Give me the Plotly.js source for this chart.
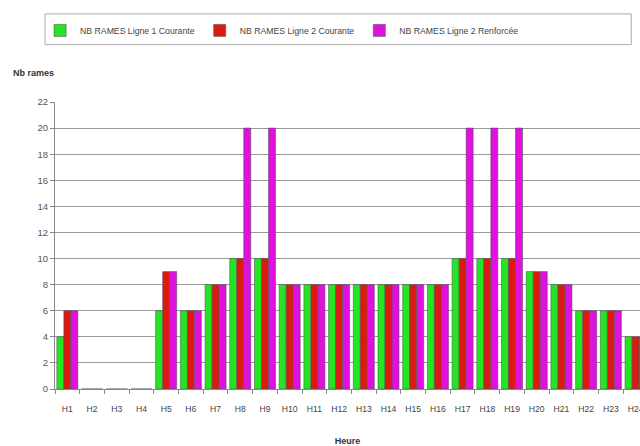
<!DOCTYPE html>
<html><head><meta charset="utf-8">
<script src="https://cdn.plot.ly/plotly-3.0.1.min.js"></script>
<style>html,body{margin:0;padding:0;background:#fff}</style>
</head><body><div id="chart" style="width:640px;height:446px"></div>
<script>
var hours = ['H1','H2','H3','H4','H5','H6','H7','H8','H9','H10','H11','H12','H13','H14','H15','H16','H17','H18','H19','H20','H21','H22','H23','H24'];
var ligne1Courante = [4,0,0,0,6,6,8,10,10,8,8,8,8,8,8,8,10,10,10,9,8,6,6,4];
var ligne2Courante = [6,0,0,0,9,6,8,10,10,8,8,8,8,8,8,8,10,10,10,9,8,6,6,4];
var ligne2Renforcee = [6,0,0,0,9,6,8,20,20,8,8,8,8,8,8,8,20,20,20,9,8,6,6,4];
var seriesNames = ['NB RAMES Ligne 1 Courante','NB RAMES Ligne 2 Courante','NB RAMES Ligne 2 Renforcée'];
var seriesColors = ['#22e622','#dc1a12','#e010e0'];
var seriesData = [ligne1Courante, ligne2Courante, ligne2Renforcee];

var traces = seriesData.map(function(d,i){
  return {type:'bar', x:hours, y:d, name:seriesNames[i],
    marker:{color:seriesColors[i], line:{color:'#555', width:0.6}}};
});
var font = {family:'Liberation Sans, Arial, sans-serif', color:'#444'};
var layout = {
  width:640, height:446,
  margin:{l:55, r:0, t:102, b:57},
  paper_bgcolor:'#fff', plot_bgcolor:'#fff',
  barmode:'group', bargap:0.15, bargroupgap:0,
  font:font,
  xaxis:{range:[-0.5,23.18], tickangle:0, tickfont:{size:8.6, color:'#444'}, ticklabelstandoff:12,
    showline:true, linecolor:'#888',
    ticks:'outside', tickson:'boundaries', ticklen:4, tickcolor:'#888', showgrid:false,
    title:{text:'<b>Heure</b>', font:{size:9, color:'#333'}, standoff:26}},
  yaxis:{range:[0,22], dtick:2, tickfont:{size:9.5, color:'#555'}, showline:true, linecolor:'#888',
    ticks:'outside', ticklen:4, tickcolor:'#888', gridcolor:'#9a9a9a', gridwidth:1, zeroline:false},
  legend:{orientation:'h', x:-0.0255, y:1.3, xanchor:'left', yanchor:'top',
    borderwidth:0, bgcolor:'rgba(0,0,0,0)', font:{size:8.7, color:'#444'}, itemwidth:30, tracegroupgap:0},
  shapes:[{type:'rect', xref:'paper', yref:'paper', x0:-0.017, x1:0.985, y0:1.2, y1:1.307,
    line:{color:'#aaa', width:1}, fillcolor:'rgba(0,0,0,0)'}],
  annotations:[{text:'<b>Nb rames</b>', xref:'paper', yref:'paper', x:-0.075, y:1.1, xanchor:'left', yanchor:'middle',
    showarrow:false, font:{size:9, color:'#333'}}]
};
Plotly.newPlot('chart', traces, layout, {displayModeBar:false, staticPlot:true});
</script></body></html>
